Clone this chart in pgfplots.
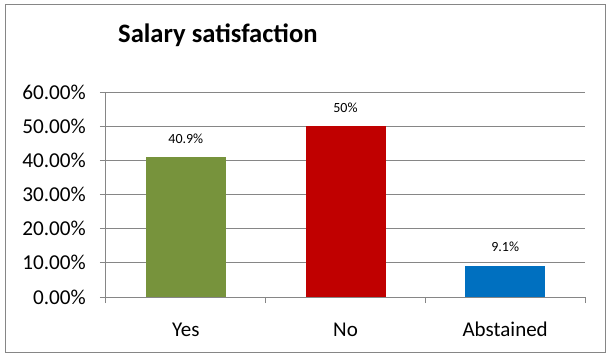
\documentclass[border=0pt]{standalone}
\usepackage{pgfplots}
\pgfplotsset{compat=1.18}
\usepackage{fontspec}
\setmainfont{Carlito}
\definecolor{cgreen}{HTML}{77933C}
\definecolor{cred}{HTML}{C00000}
\definecolor{cblue}{HTML}{0070C0}
\definecolor{cgrid}{HTML}{868686}
\begin{document}
\begin{tikzpicture}[x=1pt,y=1pt]
\path[use as bounding box] (0,0) rectangle (611,354);
\draw[cgrid, line width=1pt] (5,2) rectangle (605,349);
\node[anchor=base west, inner sep=0pt, font=\fontsize{26.6}{30}\selectfont\bfseries] at (118,311) {Salary satisfaction};
\begin{axis}[
  at={(106pt,57pt)}, anchor=south west,
  scale only axis, width=479pt, height=205pt,
  xmin=-0.5, xmax=2.5, ymin=0, ymax=60,
  axis x line*=bottom, axis y line*=left,
  axis line style={cgrid, line width=1pt},
  ytick={0,10,20,30,40,50,60},
  yticklabels={0.00\%,10.00\%,20.00\%,30.00\%,40.00\%,50.00\%,60.00\%},
  ymajorgrids, grid style={cgrid, line width=1pt},
  ytick style={cgrid, line width=1pt},
  tick align=outside, major tick length=6pt,
  yticklabel style={font=\fontsize{21.2}{24}\selectfont, inner sep=0pt, anchor=east, xshift=-14pt},
  xtick={0,1,2}, xticklabels={Yes,No,Abstained},
  xtick style={draw=none},
  xticklabel style={font=\fontsize{21}{24}\selectfont, inner sep=0pt, anchor=base, yshift=-33pt},
  extra x ticks={-0.5,0.5,1.5,2.5}, extra x tick labels={},
  extra x tick style={grid=none, xtick style={draw=cgrid, line width=1pt}},
  ybar, bar width=80pt, bar shift=0pt,
  nodes near coords={\pgfmathprintnumber{\pgfplotspointmeta}\%},
  every node near coord/.append style={font=\fontsize{14}{17}\selectfont, anchor=base, yshift=14pt, black},
  /pgf/number format/assume math mode=true,
  clip=false,
]
\addplot[fill=cgreen, draw=none] coordinates {(0,40.9)};
\addplot[fill=cred, draw=none] coordinates {(1,50)};
\addplot[fill=cblue, draw=none] coordinates {(2,9.1)};
\end{axis}
\end{tikzpicture}
\end{document}
